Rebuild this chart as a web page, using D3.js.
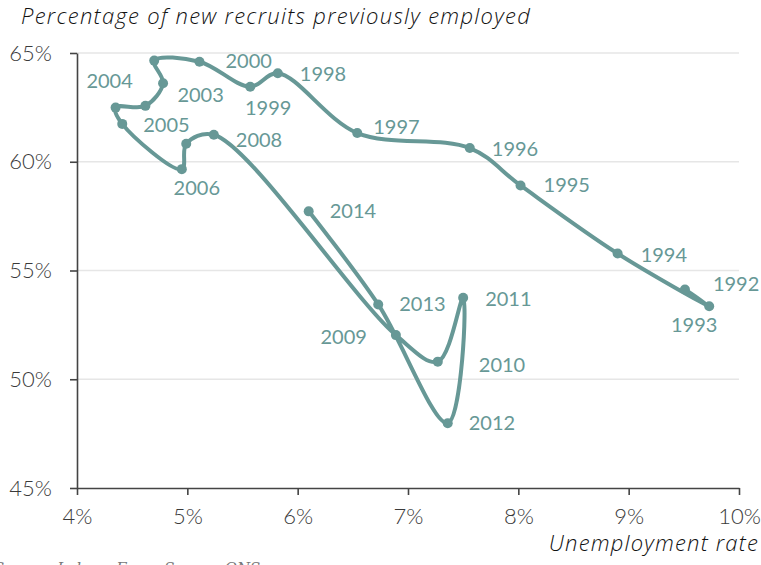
<!DOCTYPE html>
<html>
<head>
<meta charset="utf-8">
<script src="https://cdn.jsdelivr.net/npm/d3@7"></script>
<style>
  html, body { margin: 0; padding: 0; background: #fff; }
  svg { display: block; }
</style>
</head>
<body>
<svg id="chart" width="761" height="565"></svg>
<script>
// ---- Data ----
const years = [1992,1993,1994,1995,1996,1997,1998,1999,2000,2001,2002,2003,2004,2005,2006,2007,2008,2009,2010,2011,2012,2013,2014];
const unemployment = [9.51,9.73,8.90,8.02,7.56,6.54,5.82,5.57,5.11,4.70,4.78,4.62,4.35,4.41,4.95,4.99,5.24,6.89,7.27,7.50,7.36,6.73,6.10];
const previouslyEmployed = [54.13,53.36,55.78,58.91,60.63,61.32,64.07,63.45,64.60,64.65,63.61,62.57,62.49,61.74,59.66,60.83,61.24,52.03,50.81,53.75,47.98,53.44,57.72];
const xTicks = [4,5,6,7,8,9,10];
const yTicks = [45,50,55,60,65];

// ---- Label layout (offsets in px from the point) ----
const labelLayout = {
  1992: {dx: 28, dy: -5, anchor: "start"},
  1993: {dx: -15, dy: 19, anchor: "middle"},
  1994: {dx: 23, dy: 1, anchor: "start"},
  1995: {dx: 23, dy: 0, anchor: "start"},
  1996: {dx: 22, dy: 1, anchor: "start"},
  1997: {dx: 16, dy: -6, anchor: "start"},
  1998: {dx: 22, dy: 1, anchor: "start"},
  1999: {dx: 18, dy: 21, anchor: "middle"},
  2000: {dx: 26, dy: -1, anchor: "start"},
  2003: {dx: 32, dy: -11, anchor: "start"},
  2004: {dx: -6, dy: -27, anchor: "middle"},
  2005: {dx: 21, dy: 1, anchor: "start"},
  2006: {dx: 15, dy: 19, anchor: "middle"},
  2008: {dx: 22, dy: 5, anchor: "start"},
  2009: {dx: -29, dy: 2, anchor: "end"},
  2010: {dx: 41, dy: 3, anchor: "start"},
  2011: {dx: 22, dy: 1, anchor: "start"},
  2012: {dx: 21, dy: 0, anchor: "start"},
  2013: {dx: 21, dy: 0, anchor: "start"},
  2014: {dx: 21, dy: 0, anchor: "start"}
};

const data = years.map((y, i) => ({year: y, x: unemployment[i], y: previouslyEmployed[i]}));

const color = "#679896";
const svg = d3.select("#chart");
const font = "Lato, 'Open Sans', sans-serif";
const italicFont = "'Open Sans', Lato, sans-serif";

const x = d3.scaleLinear().domain([4, 10]).range([77, 739]);
const y = d3.scaleLinear().domain([45, 65]).range([488, 53]);

// gridlines
svg.append("g")
  .selectAll("line")
  .data(yTicks.filter(t => t > 45))
  .join("line")
  .attr("x1", x(4)).attr("x2", x(10))
  .attr("y1", d => y(d)).attr("y2", d => y(d))
  .attr("stroke", "#e6e6e6").attr("stroke-width", 1.5);

// axes
const xAxis = svg.append("g")
  .attr("transform", `translate(0,${y(45)})`)
  .call(d3.axisBottom(x).tickValues(xTicks).tickSize(7).tickSizeOuter(0).tickPadding(13).tickFormat(d => d + "%"));
const yAxis = svg.append("g")
  .attr("transform", `translate(${x(4)},0)`)
  .call(d3.axisLeft(y).tickValues(yTicks).tickSize(7).tickSizeOuter(0).tickPadding(18).tickFormat(d => d + "%"));

[xAxis, yAxis].forEach(g => {
  g.select(".domain").attr("stroke", "#444").attr("stroke-width", 1.6);
  g.selectAll(".tick line").attr("stroke", "#444").attr("stroke-width", 1.6);
  g.selectAll(".tick text").attr("fill", "#3a3a3a").style("font-family", font).style("font-size", "22px").style("font-weight", 300);
});

// line
const line = d3.line()
  .x(d => x(d.x)).y(d => y(d.y))
  .curve(d3.curveCatmullRom.alpha(0.5));

svg.append("path")
  .datum(data)
  .attr("d", line)
  .attr("fill", "none")
  .attr("stroke", color)
  .attr("stroke-width", 4)
  .attr("stroke-linejoin", "round")
  .attr("stroke-linecap", "round");

svg.append("g")
  .selectAll("circle")
  .data(data)
  .join("circle")
  .attr("cx", d => x(d.x)).attr("cy", d => y(d.y))
  .attr("r", 5)
  .attr("fill", color);

// labels
svg.append("g")
  .selectAll("text")
  .data(data.filter(d => labelLayout[d.year]))
  .join("text")
  .attr("x", d => x(d.x) + labelLayout[d.year].dx)
  .attr("y", d => y(d.y) + labelLayout[d.year].dy)
  .attr("dy", "0.35em")
  .attr("text-anchor", d => labelLayout[d.year].anchor)
  .attr("fill", color)
  .style("font-family", font)
  .style("font-size", "20px")
  .style("font-weight", 400)
  .text(d => d.year);

// titles
svg.append("text")
  .attr("x", 21).attr("y", 24)
  .attr("fill", "#111")
  .style("font-family", italicFont).style("font-style", "italic").style("font-weight", 300)
  .style("font-size", "22px").style("letter-spacing", "1.3px")
  .text("Percentage of new recruits previously employed");

svg.append("text")
  .attr("x", 759).attr("y", 551)
  .attr("text-anchor", "end")
  .attr("fill", "#111")
  .style("font-family", italicFont).style("font-style", "italic").style("font-weight", 300)
  .style("font-size", "22px").style("letter-spacing", "1.2px")
  .text("Unemployment rate");

svg.append("text")
  .attr("x", -6).attr("y", 573)
  .attr("fill", "#777")
  .style("font-family", "'DejaVu Serif', 'Liberation Serif', serif").style("font-style", "italic")
  .style("font-size", "15px")
  .text("Source: Labour Force Survey, ONS");
</script>
</body>
</html>
